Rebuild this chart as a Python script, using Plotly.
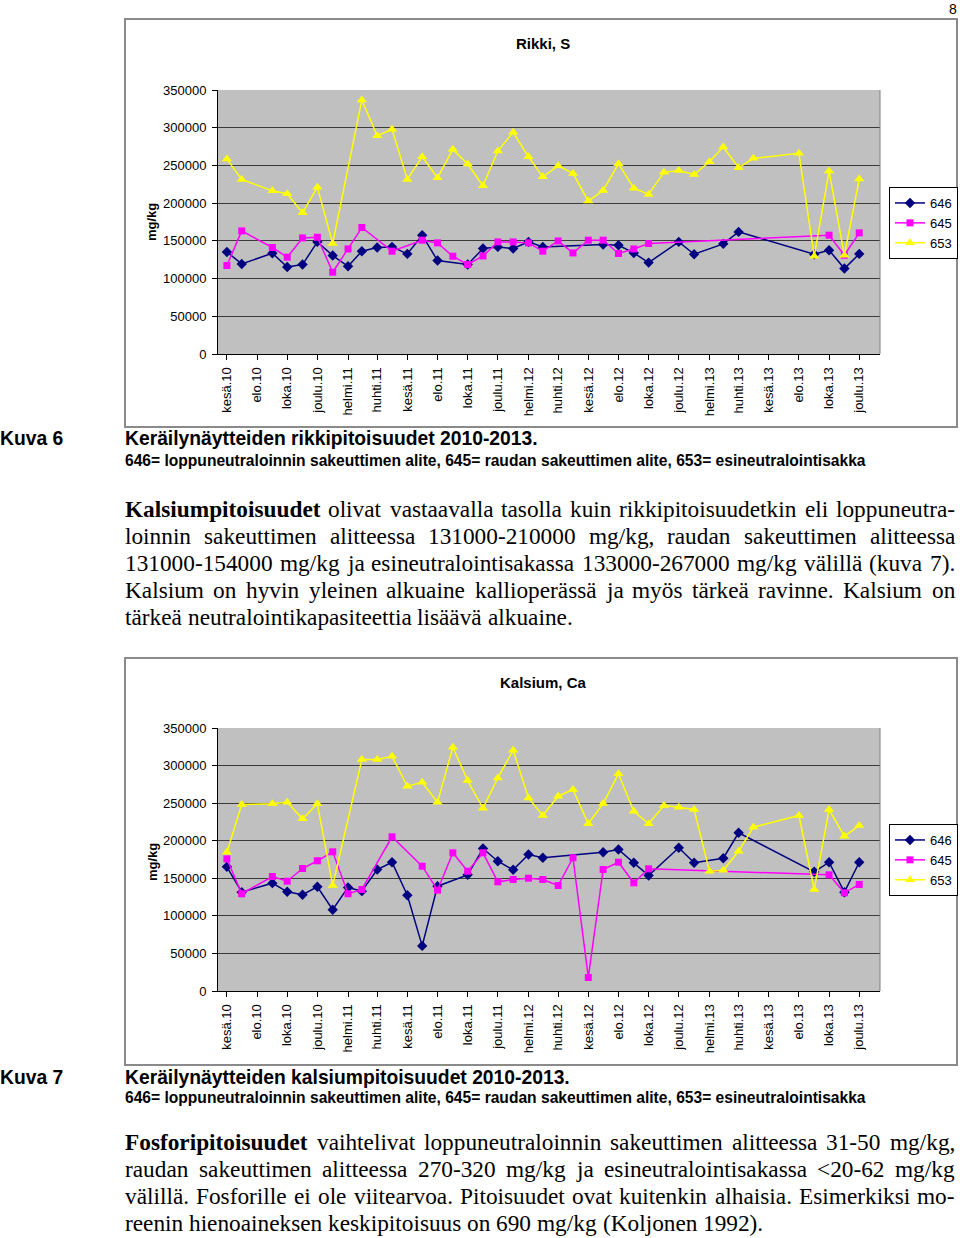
import plotly.graph_objects as go
import html

# ---------------- data ----------------
tick_dates = ["2010-06-01", "2010-08-01", "2010-10-01", "2010-12-01", "2011-02-01", "2011-04-01",
              "2011-06-01", "2011-08-01", "2011-10-01", "2011-12-01", "2012-02-01", "2012-04-01",
              "2012-06-01", "2012-08-01", "2012-10-01", "2012-12-01", "2013-02-01", "2013-04-01",
              "2013-06-01", "2013-08-01", "2013-10-01", "2013-12-01"]
tick_labels = ["kesä.10", "elo.10", "loka.10", "joulu.10", "helmi.11", "huhti.11",
               "kesä.11", "elo.11", "loka.11", "joulu.11", "helmi.12", "huhti.12",
               "kesä.12", "elo.12", "loka.12", "joulu.12", "helmi.13", "huhti.13",
               "kesä.13", "elo.13", "loka.13", "joulu.13"]

months_646 = ["2010-06", "2010-07", "2010-09", "2010-10", "2010-11", "2010-12",
              "2011-01", "2011-02", "2011-03", "2011-04", "2011-05", "2011-06", "2011-07", "2011-08",
              "2011-10", "2011-11", "2011-12",
              "2012-01", "2012-02", "2012-03", "2012-07", "2012-08", "2012-09", "2012-10", "2012-12",
              "2013-01", "2013-03", "2013-04", "2013-09", "2013-10", "2013-11", "2013-12"]
months_645 = ["2010-06", "2010-07", "2010-09", "2010-10", "2010-11", "2010-12",
              "2011-01", "2011-02", "2011-03", "2011-05", "2011-07", "2011-08", "2011-09", "2011-10",
              "2011-11", "2011-12",
              "2012-01", "2012-02", "2012-03", "2012-04", "2012-05", "2012-06", "2012-07", "2012-08",
              "2012-09", "2012-10",
              "2013-10", "2013-11", "2013-12"]
months_653 = ["2010-06", "2010-07", "2010-09", "2010-10", "2010-11", "2010-12",
              "2011-01", "2011-03", "2011-04", "2011-05", "2011-06", "2011-07", "2011-08", "2011-09",
              "2011-10", "2011-11", "2011-12",
              "2012-01", "2012-02", "2012-03", "2012-04", "2012-05", "2012-06", "2012-07", "2012-08",
              "2012-09", "2012-10", "2012-11", "2012-12",
              "2013-01", "2013-02", "2013-03", "2013-04", "2013-05", "2013-08", "2013-09", "2013-10",
              "2013-11", "2013-12"]

# Rikki, S (mg/kg)
s_646 = [135300, 119400, 133600, 115400, 118600, 148600,
         130500, 116300, 136300, 141200, 142000, 132700, 157500, 123900,
         118600, 139800, 142000,
         139800, 148600, 142000, 145200, 144200, 134000, 121200, 148600,
         132300, 146000, 161900, 132300, 137600, 113300, 132700]
s_645 = [117300, 163200, 141200, 128300, 153900, 154800,
         108400, 139300, 167700, 136300, 150900, 147300, 129600, 118600,
         130000, 148600,
         148600, 147300, 136300, 149900, 134000, 150900, 150900, 133200,
         139300, 146500,
         157500, 130900, 160600]
s_653 = [258400, 231500, 216300, 212400, 187100, 221200,
         146500, 336800, 289400, 297900, 231500, 261500, 233600, 271300,
         251800, 223000, 269100,
         293900, 261500, 234900, 249500, 239400, 202700, 216900, 252200,
         219900, 211600, 240800, 243400,
         238100, 254800, 274400, 246900, 259400, 266000, 129600, 242500,
         130900, 231900]

# Kalsium, Ca (mg/kg)
ca_646 = [165300, 131500, 143500, 132000, 128100, 138700,
          108100, 137800, 132900, 161700, 171400, 127500, 60000, 139500,
          154600, 189600, 172700,
          161300, 181600, 177300, 184700, 188300, 170600, 153700, 190600,
          170600, 176700, 210500, 158600, 171400, 131500, 171400]
ca_645 = [175900, 129400, 152400, 146100, 163000, 173300,
          185200, 129400, 135100, 205200, 166100, 134200, 183900, 159400,
          183900, 145300,
          148400, 150100, 148400, 140400, 177300, 18000, 161700, 171400,
          144000, 162600,
          154600, 130700, 141800]
ca_653 = [184700, 248100, 249100, 251200, 229100, 249100,
          140400, 308000, 308000, 312400, 272500, 277800, 251200, 324300,
          280000, 243200, 283600,
          320400, 257000, 233500, 259200, 268100, 222500, 249500, 289000,
          239200, 222500, 246800, 244500,
          241500, 159400, 160800, 186000, 218000, 233500, 135100, 241500,
          206000, 220200]

series_names = ["646", "645", "653"]

# ---------------- layout helpers ----------------
W, H = 960, 1238
def px(x): return x / W
def py(y): return 1 - y / H

SANS = "Liberation Sans, Arial, sans-serif"
SERIF = "Liberation Serif, Times New Roman, serif"

styles = {
    "646": dict(color="#000080", symbol="diamond", size=8),
    "645": dict(color="#FF00FF", symbol="square", size=7),
    "653": dict(color="#FFFF00", symbol="triangle-up", size=9),
}

fig = go.Figure()

charts = [
    ("x", "y", "legend", [months_646, months_645, months_653], [s_646, s_645, s_653]),
    ("x2", "y2", "legend2", [months_646, months_645, months_653], [ca_646, ca_645, ca_653]),
]
for xa, ya, lg, mlist, vlist in charts:
    for name, months, vals in zip(series_names, mlist, vlist):
        st = styles[name]
        fig.add_trace(go.Scatter(
            x=months, y=vals, name=name, mode="lines+markers",
            xaxis=xa, yaxis=ya, legend=lg,
            line=dict(color=st["color"], width=1.5),
            marker=dict(color=st["color"], symbol=st["symbol"], size=st["size"], line=dict(width=0)),
        ))

def xaxis_cfg(anchor):
    return dict(domain=[px(218), px(880)], type="date", range=["2010-05-14", "2014-01-12"],
                tickvals=tick_dates, ticktext=tick_labels, tickangle=-90,
                ticks="outside", ticklen=5, tickcolor="#000", showline=True, linecolor="#000",
                linewidth=1, showgrid=False, zeroline=False, anchor=anchor, automargin=False,
                tickfont=dict(family=SANS, size=13, color="#000"), ticklabelstandoff=2)

def yaxis_cfg(anchor, top, bottom):
    return dict(domain=[py(bottom), py(top)], range=[0, 350000], dtick=50000, tickformat="d",
                showgrid=True, gridcolor="#3a3a3a", gridwidth=1, zeroline=False,
                showline=True, linecolor="#000", linewidth=1, ticks="outside", ticklen=5,
                tickcolor="#000", anchor=anchor, ticklabelstandoff=3, automargin=False,
                tickfont=dict(family=SANS, size=13, color="#000"))

legend_common = dict(bgcolor="#fff", bordercolor="#000", borderwidth=1,
                     font=dict(family=SANS, size=13, color="#000"),
                     xanchor="left", yanchor="top", itemwidth=30, tracegroupgap=0)

fig.update_layout(
    width=W, height=H, margin=dict(l=0, r=0, t=0, b=0, pad=0), autosize=False,
    paper_bgcolor="#fff", plot_bgcolor="#C0C0C0",
    xaxis=xaxis_cfg("y"), yaxis=yaxis_cfg("x", 90, 354),
    xaxis2=xaxis_cfg("y2"), yaxis2=yaxis_cfg("x2", 728, 991),
    legend=dict(x=px(889), y=py(187), **legend_common),
    legend2=dict(x=px(889), y=py(824), **legend_common),
    showlegend=True,
)

shapes = []
# chart frames
for y0, y1 in [(19, 427), (658, 1065)]:
    shapes.append(dict(type="rect", xref="paper", yref="paper", x0=px(125), x1=px(957),
                       y0=py(y1), y1=py(y0), line=dict(color="#8a8a8a", width=2)))
# plot-area right border
for xa, ya in [("x", "y"), ("x2", "y2")]:
    shapes.append(dict(type="line", xref=f"{xa} domain", yref=f"{ya} domain", x0=1, x1=1, y0=0, y1=1,
                       line=dict(color="#808080", width=1)))
fig.update_layout(shapes=shapes)

ann = []
def text(t, x, y, size, family=SANS, xanchor="left", bold=False, angle=0):
    ann.append(dict(text=(f"<b>{t}</b>" if bold else t), x=px(x), y=py(y), xref="paper", yref="paper",
                    xanchor=xanchor, yanchor="middle", showarrow=False, textangle=angle,
                    borderpad=0, borderwidth=0,
                    font=dict(family=family, size=size, color="#000")))

text("8", 957, 9, 14, xanchor="right")
text("Rikki, S", 543, 44, 15, xanchor="center", bold=True)
text("Kalsium, Ca", 543, 682, 15, xanchor="center", bold=True)
text("mg/kg", 152, 222, 13, xanchor="center", bold=True, angle=-90)
text("mg/kg", 152, 862, 13, xanchor="center", bold=True, angle=-90)

legend_line = "646= loppuneutraloinnin sakeuttimen alite, 645= raudan sakeuttimen alite, 653= esineutralointisakka"
text("Kuva 6", 0, 438, 19.3, bold=True)
text("Keräilynäytteiden rikkipitoisuudet 2010-2013.", 125, 438, 19.3, bold=True)
text(legend_line, 125, 460, 15.6, bold=True)
text("Kuva 7", 0, 1077, 19.3, bold=True)
text("Keräilynäytteiden kalsiumpitoisuudet 2010-2013.", 125, 1077, 19.3, bold=True)
text(legend_line, 125, 1097, 15.6, bold=True)

# ---- justified serif paragraphs ----
FS = 23.3
REG = {' ': 250, 'a': 444, 'b': 500, 'c': 444, 'd': 500, 'e': 444, 'f': 333, 'g': 500, 'h': 500,
       'i': 278, 'j': 278, 'k': 500, 'l': 278, 'm': 778, 'n': 500, 'o': 500, 'p': 500, 'q': 500,
       'r': 333, 's': 389, 't': 278, 'u': 500, 'v': 500, 'w': 722, 'x': 500, 'y': 500, 'z': 444,
       'A': 722, 'E': 611, 'F': 556, 'K': 722, 'P': 556, 'S': 556, 'T': 611, 'R': 667,
       '.': 250, ',': 250, '-': 333, '/': 278, '(': 333, ')': 333, '<': 564, 'ä': 444, 'ö': 500}
for d in "0123456789":
    REG[d] = 500
BOLD = {'a': 500, 'b': 556, 'c': 444, 'd': 556, 'e': 444, 'f': 333, 'g': 500, 'h': 556, 'i': 278,
        'j': 333, 'k': 556, 'l': 278, 'm': 833, 'n': 556, 'o': 500, 'p': 556, 'r': 444, 's': 389,
        't': 333, 'u': 556, 'K': 778, 'F': 611, ' ': 250}

def wwidth(w, bold):
    tbl = BOLD if bold else REG
    return sum(tbl.get(c, REG.get(c, 500)) for c in w) / 1000 * FS

bold_words = {"Kalsiumpitoisuudet", "Fosforipitoisuudet"}
para1 = [
    ("Kalsiumpitoisuudet olivat vastaavalla tasolla kuin rikkipitoisuudetkin eli loppuneutra-", True),
    ("loinnin sakeuttimen alitteessa 131000-210000 mg/kg, raudan sakeuttimen alitteessa", True),
    ("131000-154000 mg/kg ja esineutralointisakassa 133000-267000 mg/kg välillä (kuva 7).", True),
    ("Kalsium on hyvin yleinen alkuaine kallioperässä ja myös tärkeä ravinne. Kalsium on", True),
    ("tärkeä neutralointikapasiteettia lisäävä alkuaine.", False),
]
para2 = [
    ("Fosforipitoisuudet vaihtelivat loppuneutraloinnin sakeuttimen alitteessa 31-50 mg/kg,", True),
    ("raudan sakeuttimen alitteessa 270-320 mg/kg ja esineutralointisakassa <20-62 mg/kg", True),
    ("välillä. Fosforille ei ole viitearvoa. Pitoisuudet ovat kuitenkin alhaisia. Esimerkiksi mo-", True),
    ("reenin hienoaineksen keskipitoisuus on 690 mg/kg (Koljonen 1992).", False),
]

def place_para(lines, y0, step):
    LEFT, RIGHT = 125, 955
    for i, (line, just) in enumerate(lines):
        y = y0 + i * step
        words = line.split(" ")
        widths = [wwidth(w, w in bold_words) for w in words]
        if just and len(words) > 1:
            gap = (RIGHT - LEFT - sum(widths)) / (len(words) - 1)
        else:
            gap = REG[' '] / 1000 * FS
        x = LEFT
        for w, wd in zip(words, widths):
            t = html.escape(w, quote=False)
            ann.append(dict(text=(f"<b>{t}</b>" if w in bold_words else t), x=px(x), y=py(y),
                            xref="paper", yref="paper", xanchor="left", yanchor="middle",
                            showarrow=False, borderpad=0, borderwidth=0,
                            font=dict(family=SERIF, size=FS, color="#000")))
            x += wd + gap

place_para(para1, 509, 27)
place_para(para2, 1142, 27)

fig.update_layout(annotations=ann)
fig.write_html("out.html", config={"displayModeBar": False},
               post_script="document.body.style.margin='0';document.body.style.overflow='hidden';")
